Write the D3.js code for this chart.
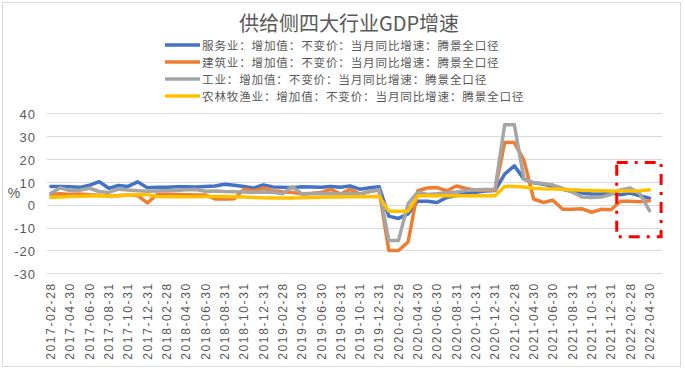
<!DOCTYPE html>
<html>
<head>
<meta charset="utf-8">
<script src="https://cdn.jsdelivr.net/npm/d3@7"></script>
<style>
  body { margin: 0; background: #fff; }
  svg { display: block; }
</style>
</head>
<body>
<svg id="chart"></svg>
<script>
// month-end categories (last one has no data yet)
const categories = [
  "2017-02-28", "2017-03-31", "2017-04-30", "2017-05-31", "2017-06-30", "2017-07-31",
  "2017-08-31", "2017-09-30", "2017-10-31", "2017-11-30", "2017-12-31",
  "2018-01-31", "2018-02-28", "2018-03-31", "2018-04-30", "2018-05-31", "2018-06-30",
  "2018-07-31", "2018-08-31", "2018-09-30", "2018-10-31", "2018-11-30", "2018-12-31",
  "2019-01-31", "2019-02-28", "2019-03-31", "2019-04-30", "2019-05-31", "2019-06-30",
  "2019-07-31", "2019-08-31", "2019-09-30", "2019-10-31", "2019-11-30", "2019-12-31",
  "2020-01-31", "2020-02-29", "2020-03-31", "2020-04-30", "2020-05-31", "2020-06-30",
  "2020-07-31", "2020-08-31", "2020-09-30", "2020-10-31", "2020-11-30", "2020-12-31",
  "2021-01-31", "2021-02-28", "2021-03-31", "2021-04-30", "2021-05-31", "2021-06-30",
  "2021-07-31", "2021-08-31", "2021-09-30", "2021-10-31", "2021-11-30", "2021-12-31",
  "2022-01-31", "2022-02-28", "2022-03-31", "2022-04-30", "2022-05-31",
];

const services = [
  8.0, 8.0, 7.9, 7.6, 8.5, 10.1, 7.2, 8.4, 8.0, 10.0, 7.4,
  7.6, 7.7, 7.9, 7.9, 7.8, 8.0, 8.2, 9.0, 8.5, 8.0, 7.3, 8.7,
  7.8, 7.6, 7.4, 7.9, 7.8, 7.6, 8.0, 7.6, 8.2, 6.8, 7.4, 7.9,
  -5.0, -6.0, -4.0, 1.5, 1.5, 1.0, 3.2, 4.0, 5.0, 5.5, 6.0, 6.2,
  13.4, 17.0, 11.2, 9.6, 9.0, 7.9, 6.8, 5.8, 5.1, 4.7, 4.7, 5.1,
  4.4, 5.1, 3.9, 2.9, null,
];

const construction = [
  4.6, 4.8, 4.5, 4.7, 4.4, 4.2, 3.8, 4.0, 4.3, 4.0, 0.8,
  4.5, 4.6, 4.5, 4.4, 4.3, 4.3, 2.5, 2.5, 2.6, 6.8, 6.1, 7.2,
  6.1, 5.7, 5.4, 4.7, 5.0, 5.4, 6.7, 4.7, 6.7, 4.7, 5.8, 6.4,
  -20.0, -20.0, -16.3, 6.1, 7.3, 7.5, 6.1, 8.2, 7.1, 6.3, 6.3, 6.3,
  27.2, 27.2, 19.4, 2.5, 1.0, 2.0, -2.0, -2.0, -1.8, -3.3, -2.0, -2.2,
  1.5, 1.5, 1.3, 1.7, null,
];

const industry = [
  5.0, 7.4, 6.1, 6.3, 7.2, 5.8, 5.4, 6.8, 6.4, 6.1, 5.9,
  6.0, 6.1, 6.2, 6.6, 6.7, 5.9, 6.0, 5.8, 5.7, 5.6, 5.4, 5.6,
  5.5, 4.8, 7.9, 4.7, 4.8, 4.9, 4.8, 4.6, 5.0, 4.6, 5.8, 6.6,
  -15.6, -15.6, 0.5, 5.5, 4.5, 4.8, 5.2, 5.6, 6.2, 6.5, 6.7, 6.8,
  35.0, 35.0, 11.2, 9.6, 9.3, 8.6, 7.2, 5.5, 3.4, 3.2, 3.4, 4.5,
  6.5, 7.3, 4.8, -2.6, null,
];

const agriculture = [
  3.2, 3.4, 3.6, 3.7, 3.8, 3.9, 3.8, 3.8, 4.2, 4.4, 4.4,
  3.6, 3.5, 3.5, 3.5, 3.5, 3.6, 3.6, 3.6, 3.5, 3.4, 3.2, 3.0,
  2.9, 2.9, 2.9, 3.0, 3.2, 3.3, 3.4, 3.4, 3.5, 3.5, 3.5, 3.6,
  -2.8, -2.8, -2.8, 3.9, 3.9, 3.9, 3.9, 3.9, 3.9, 3.9, 3.9, 3.9,
  8.0, 8.0, 7.8, 7.2, 7.0, 6.9, 6.8, 6.5, 6.3, 6.2, 6.1, 6.0,
  6.0, 6.0, 6.1, 6.6, null,
];

const yTicks = [-30, -20, -10, 0, 10, 20, 30, 40];

const seriesNames = [
  "服务业：增加值：不变价：当月同比增速：腾景全口径",
  "建筑业：增加值：不变价：当月同比增速：腾景全口径",
  "工业：增加值：不变价：当月同比增速：腾景全口径",
  "农林牧渔业：增加值：不变价：当月同比增速：腾景全口径",
];
const seriesColors = ["#4472C4", "#ED7D31", "#A5A5A5", "#FFC000"];
const seriesValues = [services, construction, industry, agriculture];

const title = "供给侧四大行业GDP增速";
const yLabel = "%";

// highlight box around the latest months
const boxFrom = "2022-01-31";
const boxTo = "2022-05-31";
const boxTop = 18.5;
const boxBottom = -14;

const width = 685;
const height = 372;
const plot = { left: 46, right: 664, top: 113.3, bottom: 273.3 };
const textColor = "#595959";
const gridColor = "#d9d9d9";
const cjkFont = "'Noto Sans CJK SC', 'Noto Sans', sans-serif";
const numFont = "'Liberation Sans', Arial, sans-serif";

const svg = d3.select("#chart").attr("width", width).attr("height", height);

svg
  .append("rect")
  .attr("x", 2.5)
  .attr("y", 2.5)
  .attr("width", 678)
  .attr("height", 364)
  .attr("fill", "#fff")
  .attr("stroke", gridColor);

const xScale = d3
  .scaleBand()
  .domain(categories)
  .range([plot.left, plot.right]);
const xMid = (c) => xScale(c) + xScale.bandwidth() / 2;

const yScale = d3
  .scaleLinear()
  .domain([-30, 40])
  .range([plot.bottom, plot.top]);

// gridlines
svg
  .append("g")
  .selectAll("line")
  .data(yTicks)
  .join("line")
  .attr("x1", 47)
  .attr("x2", 662)
  .attr("y1", (d) => Math.round(yScale(d)) + 0.5)
  .attr("y2", (d) => Math.round(yScale(d)) + 0.5)
  .attr("stroke", gridColor)
  .attr("stroke-width", 1);

// y axis labels
const yAxis = svg
  .append("g")
  .attr("transform", `translate(36,0)`)
  .call(d3.axisLeft(yScale).tickValues(yTicks).tickSize(0).tickPadding(0));
yAxis.select(".domain").remove();
yAxis
  .selectAll("text")
  .attr("font-family", numFont)
  .attr("font-size", 13)
  .attr("letter-spacing", "1px")
  .attr("fill", textColor)
  .attr("dy", "0.4em")
  .text((d) => (d < 0 ? "-" + Math.abs(d) : d));

svg
  .append("text")
  .attr("x", 14)
  .attr("y", 193)
  .attr("text-anchor", "middle")
  .attr("dominant-baseline", "central")
  .attr("font-family", numFont)
  .attr("font-size", 14)
  .attr("fill", textColor)
  .text(yLabel);

// x axis labels, every second month, rotated
const xAxis = svg
  .append("g")
  .attr("transform", `translate(0,${plot.bottom})`)
  .call(
    d3
      .axisBottom(xScale)
      .tickValues(categories.filter((d, i) => i % 2 === 0))
      .tickSize(0)
  );
xAxis.select(".domain").remove();
xAxis
  .selectAll("text")
  .attr("transform", "rotate(-90)")
  .attr("text-anchor", "end")
  .attr("x", -9)
  .attr("y", 0)
  .attr("dy", "0.36em")
  .attr("font-family", numFont)
  .attr("font-size", 12)
  .attr("letter-spacing", "1.6px")
  .attr("fill", textColor);

// lines
const lineGenerator = d3
  .line()
  .defined((d) => d.value !== null)
  .x((d) => xMid(d.cat))
  .y((d) => yScale(d.value));

const seriesData = seriesNames.map((name, i) => ({
  name,
  color: seriesColors[i],
  values: categories.map((cat, j) => ({ cat, value: seriesValues[i][j] })),
}));

svg
  .append("g")
  .selectAll("path")
  .data(seriesData)
  .join("path")
  .attr("fill", "none")
  .attr("stroke", (d) => d.color)
  .attr("stroke-width", 3.5)
  .attr("stroke-linejoin", "round")
  .attr("stroke-linecap", "round")
  .attr("d", (d) => lineGenerator(d.values));

// red dash-dot box
svg
  .append("rect")
  .attr("x", xScale(boxFrom) + 1)
  .attr("y", yScale(boxTop))
  .attr("width", xScale(boxTo) + xScale.bandwidth() * 0.7 - xScale(boxFrom) - 1)
  .attr("height", yScale(boxBottom) - yScale(boxTop))
  .attr("fill", "none")
  .attr("stroke", "#FF0000")
  .attr("stroke-width", 3)
  .attr("stroke-dasharray", "11 7 3 7");

// title
svg
  .append("text")
  .attr("x", 349)
  .attr("y", 22.5)
  .attr("text-anchor", "middle")
  .attr("dominant-baseline", "central")
  .attr("font-family", cjkFont)
  .attr("font-size", 20)
  .attr("fill", textColor)
  .text(title);

// legend
const legend = svg
  .append("g")
  .selectAll("g")
  .data(seriesData)
  .join("g")
  .attr("transform", (d, i) => `translate(0,${45 + i * 17})`);

legend
  .append("line")
  .attr("x1", 165)
  .attr("x2", 200)
  .attr("stroke", (d) => d.color)
  .attr("stroke-width", 3.5);

legend
  .append("text")
  .attr("x", 202)
  .attr("dominant-baseline", "central")
  .attr("font-family", cjkFont)
  .attr("font-size", 11.6)
  .attr("letter-spacing", "0.8px")
  .attr("fill", textColor)
  .text((d) => d.name);
</script>
</body>
</html>
